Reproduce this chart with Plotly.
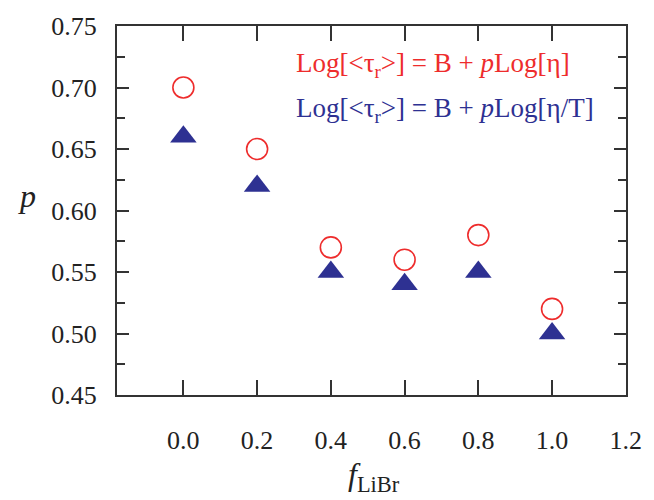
import plotly.graph_objects as go

f_libr = [0.0, 0.2, 0.4, 0.6, 0.8, 1.0]
p_eta = [0.70, 0.65, 0.57, 0.56, 0.58, 0.52]
p_eta_T = [0.66, 0.62, 0.55, 0.54, 0.55, 0.50]

red = "#EE2C2C"
blue = "#2E3192"
font_family = "Liberation Serif"

fig = go.Figure()
fig.add_trace(go.Scatter(x=f_libr, y=p_eta, mode="markers",
                         marker=dict(symbol="circle-open", size=21, color=red,
                                     line=dict(color=red, width=1.6)),
                         showlegend=False))
fig.add_trace(go.Scatter(x=f_libr, y=p_eta_T, mode="markers",
                         marker=dict(symbol="triangle-up", size=23, color=blue,
                                     line=dict(width=0)),
                         showlegend=False))

axis_common = dict(showline=True, linecolor="#333333", linewidth=2, mirror="ticks",
                   ticks="inside", tickcolor="#333333", tickwidth=2,
                   showgrid=False, zeroline=False,
                   tickfont=dict(family=font_family, size=26, color="#222222"))

fig.update_xaxes(range=[-0.18, 1.2005], tick0=0, dtick=0.2, tickformat=".1f",
                 ticklen=15, ticklabelstandoff=21, **axis_common)
fig.update_yaxes(range=[0.45, 0.75], tick0=0.45, dtick=0.05, tickformat=".2f",
                 ticklen=12, ticklabelstandoff=13,
                 minor=dict(dtick=0.025, ticks="inside", ticklen=8, tickwidth=2, tickcolor="#333333"),
                 **axis_common)

fig.add_annotation(x=0.30, y=0.718, xref="x", yref="y", xanchor="left", yanchor="middle",
                   text="Log[&lt;τ<sub>r</sub>&gt;] = B + <i>p</i>Log[η]", showarrow=False,
                   font=dict(family=font_family, size=27, color=red))
fig.add_annotation(x=0.30, y=0.682, xref="x", yref="y", xanchor="left", yanchor="middle",
                   text="Log[&lt;τ<sub>r</sub>&gt;] = B + <i>p</i>Log[η/T]", showarrow=False,
                   font=dict(family=font_family, size=27, color=blue))

fig.add_annotation(x=-0.177, y=0.54, xref="paper", yref="paper", xanchor="center", yanchor="middle",
                   text="<i>p</i>", showarrow=False,
                   font=dict(family=font_family, size=32, color="#222222"))
fig.add_annotation(x=0.505, y=-0.222, xref="paper", yref="paper", xanchor="center", yanchor="middle",
                   text="<i>f</i><sub>LiBr</sub>", showarrow=False,
                   font=dict(family=font_family, size=32, color="#222222"))

fig.update_layout(width=654, height=500, margin=dict(l=117, r=17, t=22, b=105),
                  plot_bgcolor="white", paper_bgcolor="white")

fig.write_html("out.html")
